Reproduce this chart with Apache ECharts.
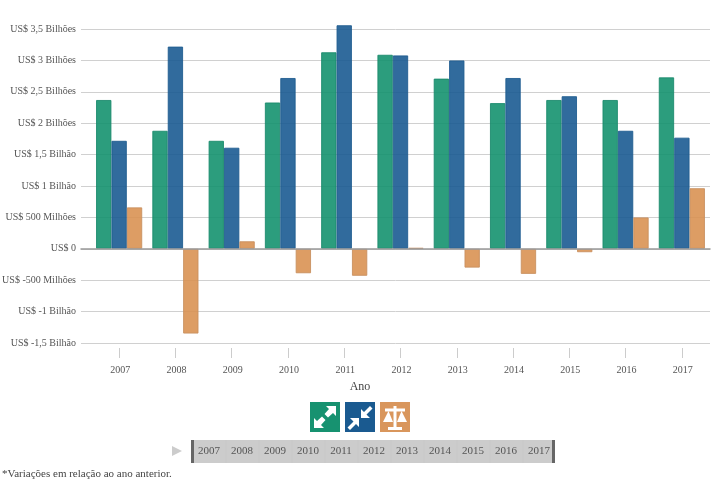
<!DOCTYPE html>
<html>
<head>
<meta charset="utf-8">
<style>html,body{margin:0;padding:0;background:#fff}#c{width:720px;height:480px}</style>
<script src="https://cdn.jsdelivr.net/npm/echarts@6/dist/echarts.min.js"></script>
</head>
<body>
<div id="c"></div>
<script>
const years = ['2007','2008','2009','2010','2011','2012','2013','2014','2015','2016','2017'];
const exportsValues = [2.37,1.88,1.72,2.33,3.13,3.09,2.71,2.32,2.37,2.37,2.73];
const importsValues = [1.72,3.22,1.61,2.72,3.56,3.08,3.00,2.72,2.43,1.88,1.77];
const balanceValues = [0.66,-1.35,0.12,-0.39,-0.43,0.015,-0.30,-0.40,-0.055,0.50,0.965];
const yTickValues = [-1.5,-1,-0.5,0,0.5,1,1.5,2,2.5,3,3.5];
const yTickLabels = ['US$ -1,5 Bilhão','US$ -1 Bilhão','US$ -500 Milhões','US$ 0','US$ 500 Milhões','US$ 1 Bilhão','US$ 1,5 Bilhão','US$ 2 Bilhões','US$ 2,5 Bilhões','US$ 3 Bilhões','US$ 3,5 Bilhões'];
const footnote = '*Variações em relação ao ano anterior.';
const xTitle = 'Ano';

const FONT = '"Liberation Serif", serif';
const GREEN = '#0f8f6b', BLUE = '#14568f', ORANGE = '#d8904f';

function bar(name, data, color, border) {
  return {
    name, type: 'bar', data, xAxisIndex: 1, yAxisIndex: 1,
    barWidth: 15.4, barGap: 0, clip: false,
    itemStyle: { color, opacity: 0.88, borderColor: border, borderWidth: 1 }
  };
}
function icon(x, color, shapes) {
  return { type: 'group', x, y: 402, children: [
    { type: 'rect', shape: { x: 0, y: 0, width: 30, height: 30 }, style: { fill: color } },
    ...shapes.map(points => ({ type: 'polygon', shape: { points }, style: { fill: '#fff' } }))
  ]};
}
const EXPAND = [
  [[16,4],[26,4],[26,14],[23,11],[18,15.5],[14.5,12],[19,7]],
  [[14,26],[4,26],[4,16],[7,19],[12,14.5],[15.5,18],[11,23]]
];
const SHRINK = [
  [[16,16],[16,7],[19,10],[25,4],[27.5,6.5],[21.5,12.5],[25,16]],
  [[14,16],[5,16],[8.5,19.5],[2.5,25.5],[5,28],[11,22],[14,25]]
];
const SCALE = [
  [[13.5,4],[16.5,4],[16.5,6.5],[25,6.5],[25,9.5],[16.5,9.5],[16.5,25],[22,25],[22,28],[8,28],[8,25],[13.5,25],[13.5,9.5],[5,9.5],[5,6.5],[13.5,6.5]],
  [[8.5,9],[13,20],[3,20]],
  [[21.5,9],[27,20],[17,20]]
];

const timeline = [
  { type: 'polygon', shape: { points: [[172,446],[182,451],[172,456]] }, style: { fill: '#cccccc' } },
  { type: 'rect', shape: { x: 192, y: 440, width: 361, height: 23 }, style: { fill: '#cccccc' } },
  { type: 'rect', shape: { x: 191, y: 440, width: 3, height: 23 }, style: { fill: '#666666' } },
  { type: 'rect', shape: { x: 552, y: 440, width: 3, height: 23 }, style: { fill: '#666666' } }
];
years.forEach((y, i) => {
  timeline.push({ type: 'text', x: 209 + i * 33, y: 451.5, style: { text: y, font: '11px ' + FONT, fill: '#555', textAlign: 'center', textVerticalAlign: 'middle' } });
  if (i > 0) timeline.push({ type: 'rect', shape: { x: 192.5 + i * 33, y: 440, width: 1, height: 23 }, style: { fill: '#c8c8c8' } });
});

const chart = echarts.init(document.getElementById('c'), null, { renderer: 'canvas' });
chart.setOption({
  animation: false,
  backgroundColor: '#fff',
  textStyle: { fontFamily: FONT },
  title: { text: xTitle, left: 'center', top: 381, padding: 0,
    textStyle: { color: '#444', fontSize: 12, fontWeight: 'normal', fontFamily: FONT } },
  grid: [
    { left: 81, right: 10, top: 29, bottom: 137, outerBoundsMode: 'none' },
    { left: 91, right: 10, top: 29, bottom: 137, outerBoundsMode: 'none' }
  ],
  xAxis: [
    { gridIndex: 0, type: 'category', data: years, axisLabel: { show: false }, axisTick: { show: false },
      axisLine: { show: true, onZero: true, lineStyle: { color: '#999', width: 1.5 } }, z: 3 },
    { gridIndex: 1, type: 'category', data: years, position: 'bottom', offset: 5,
      axisLine: { show: false, onZero: false },
      axisTick: { show: true, alignWithLabel: true, length: 10, lineStyle: { color: '#ccc' } },
      axisLabel: { color: '#555', fontSize: 10, fontFamily: FONT, margin: 17, interval: 0, padding: [0, 0, 0, 2] }
    }
  ],
  yAxis: [
    { gridIndex: 0, type: 'value', min: -1.5, max: 3.5, interval: 0.5,
      axisLine: { show: false }, axisTick: { show: false },
      splitLine: { show: true, lineStyle: { color: '#d0d0d0', width: 1 } },
      axisLabel: { color: '#555', fontSize: 10, fontFamily: FONT, margin: 5, padding: [2, 0, 0, 0],
        formatter: v => yTickLabels[yTickValues.indexOf(v)] ?? '' } },
    { gridIndex: 1, type: 'value', min: -1.5, max: 3.5, interval: 0.5, show: false }
  ],
  series: [
    bar('Exportações', exportsValues, GREEN, '#1a8a6c'),
    bar('Importações', importsValues, BLUE, '#1f5c90'),
    bar('Saldo', balanceValues, ORANGE, '#c8905e')
  ],
  graphic: [
    icon(310, '#179270', EXPAND),
    icon(345, '#1a5a90', SHRINK),
    icon(380, '#d9965c', SCALE),
    ...timeline,
    { type: 'text', x: 2, y: 474, style: { text: footnote, font: '11px ' + FONT, fill: '#444', textVerticalAlign: 'middle' } }
  ]
});
</script>
</body>
</html>
